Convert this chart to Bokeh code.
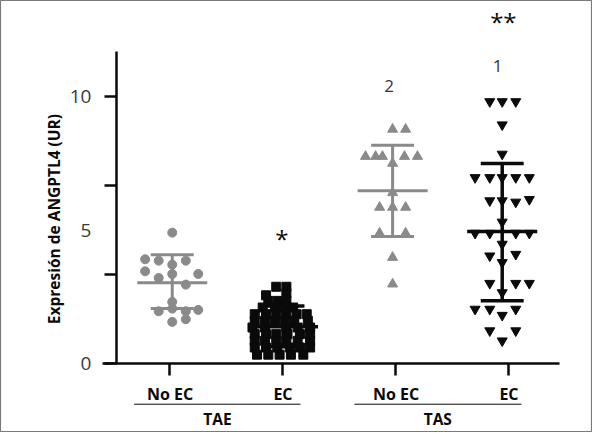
import math
from bokeh.plotting import figure
from bokeh.models import FixedTicker, Range1d
from bokeh.core.properties import value
from bokeh.embed import file_html
from bokeh.resources import INLINE

# ---------------- data ----------------
categories = ["No EC", "EC", "No EC", "EC"]
cat_pos = [1, 2, 3, 4]
groups = ["TAE", "TAS"]
y_title = "Expresión de ANGPTL4 (UR)"
y_tick_values = [0, 5, 10]
y_tick_labels = ["0", "5", "10"]
y_tick_marks = [0, 10 / 3, 20 / 3, 10]

# TAE - No EC (grey circles)
tae_noec = [4.9, 3.9, 3.85, 3.7, 3.85, 3.45, 3.2, 3.35, 2.95, 3.35, 2.3, 1.95, 2.05, 1.95, 2.0, 1.55, 1.65]
tae_noec_dx = [0.02, -0.22, -0.10, 0.02, 0.14, -0.22, -0.10, 0.25, 0.14, 0.02, 0.02, -0.10, 0.02, 0.14, 0.25, 0.02, 0.14]

# TAE - EC (black squares)
tae_ec = [2.87, 2.87,
          2.55, 2.62,
          2.34, 2.34, 2.34,
          2.09, 2.09, 2.09, 2.09,
          1.84, 1.84, 1.84, 1.84, 1.84, 1.84,
          1.59, 1.59, 1.59, 1.59, 1.59, 1.59,
          1.34, 1.34, 1.34, 1.34, 1.34,
          1.09, 1.09, 1.09, 1.09, 1.09, 1.09,
          0.84, 0.84, 0.84, 0.84, 0.84, 0.84,
          0.59, 0.59, 0.59, 0.59, 0.59, 0.59,
          0.32, 0.32, 0.32, 0.32, 0.32]
tae_ec_dx = [-0.06, 0.03,
             -0.15, 0.03,
             -0.13, -0.045, 0.03,
             -0.18, -0.07, 0.015, 0.09,
             -0.25, -0.15, -0.06, 0.03, 0.12, 0.21,
             -0.25, -0.16, -0.07, 0.015, 0.10, 0.22,
             -0.27, -0.16, 0.03, 0.13, 0.24,
             -0.25, -0.15, -0.06, 0.04, 0.15, 0.24,
             -0.25, -0.16, -0.06, 0.03, 0.13, 0.24,
             -0.25, -0.15, -0.05, 0.06, 0.15, 0.24,
             -0.23, -0.13, -0.03, 0.07, 0.18]

# TAS - No EC (grey triangles)
tas_noec = [8.78, 8.78, 7.76, 7.76, 7.76, 7.76, 7.76, 7.5, 6.4, 5.85, 5.85, 5.85, 4.88, 4.88, 3.97, 2.97]
tas_noec_dx = [-0.03, 0.085, -0.27, -0.18, -0.12, 0.075, 0.19, -0.03, -0.03, -0.145, -0.03, 0.085, -0.145, 0.085, -0.03, -0.03]

# TAS - EC (black inverted triangles)
tas_ec = [9.82, 9.82, 9.82, 8.95, 7.85,
          6.97, 6.97, 6.97, 6.97, 6.97,
          6.1, 6.1, 6.05, 6.15,
          5.3,
          4.88, 4.88, 4.88, 4.88,
          4.47, 4.03, 4.09, 3.78,
          3.0, 3.0, 3.0,
          2.65,
          2.03, 2.03, 1.8, 2.03,
          1.22, 1.22, 0.84]
tas_ec_dx = [-0.17, -0.06, 0.06, -0.06, -0.06,
             -0.30, -0.17, -0.06, 0.06, 0.18,
             -0.17, -0.06, 0.06, 0.18,
             -0.06,
             -0.30, -0.17, 0.06, 0.18,
             -0.06, -0.17, 0.06, -0.06,
             -0.17, 0.06, 0.18,
             -0.06,
             -0.30, -0.17, -0.06, 0.06,
             -0.17, 0.06, -0.06]

# mean and SD lines
means = [3.02, 1.37, 6.47, 4.94]
sd_hi = [4.07, 2.15, 8.18, 7.50]
sd_lo = [2.05, 0.62, 4.76, 2.34]

GREY = "#8a8a8a"
BLACK = "#0a0a0a"
FONT = "Open Sans"

p = figure(width=592, height=432,
           x_range=Range1d(-0.5, 4.739), y_range=Range1d(-2.601, 13.615),
           output_backend="svg", toolbar_location=None, min_border=0)
p.grid.visible = False
p.outline_line_color = "#7a7a7a"
p.outline_line_width = 1.2
p.background_fill_color = "white"
p.border_fill_color = "white"

# ---- y axis ----
yax = p.yaxis[0]
yax.fixed_location = 0.5265
yax.bounds = (0, 11.69)
yax.ticker = FixedTicker(ticks=y_tick_values, minor_ticks=y_tick_marks)
yax.major_tick_out = 0
yax.major_tick_in = 0
yax.minor_tick_out = 12
yax.minor_tick_in = 0
yax.minor_tick_line_width = 2.5
yax.minor_tick_line_color = BLACK
yax.axis_line_width = 2.5
yax.axis_line_color = BLACK
yax.major_label_text_color = None
yax.major_label_text_font_size = "1px"

# y tick labels (placed off the tick marks, as in the reference)
p.text(x=[0.305] * len(y_tick_values), y=y_tick_values, text=y_tick_labels,
       text_font=value(FONT), text_font_size="19px", text_align="right",
       text_baseline="middle", text_color="#3a3a3a")

# y title as rotated text
p.text(x=[-0.03], y=[5.41], text=[y_title], angle=math.pi / 2,
       text_font=value(FONT), text_font_style="bold", text_font_size="15.5px",
       text_align="center", text_baseline="middle", text_color=BLACK)

# ---- x axis ----
xax = p.xaxis[0]
xax.fixed_location = 0
xax.bounds = (0.4027, 4.447)
xax.ticker = FixedTicker(ticks=cat_pos)
xax.major_label_overrides = {c: l for c, l in zip(cat_pos, categories)}
xax.minor_tick_out = 0
xax.minor_tick_in = 0
xax.major_tick_out = 12
xax.major_tick_in = 0
xax.major_tick_line_width = 2.5
xax.major_tick_line_color = BLACK
xax.axis_line_width = 2.5
xax.axis_line_color = BLACK
xax.major_label_standoff = 8
xax.major_label_text_font = FONT
xax.major_label_text_font_style = "bold"
xax.major_label_text_font_size = "16px"
xax.major_label_text_color = BLACK

# ---- points ----
p.scatter([1 + d for d in tae_noec_dx], tae_noec, marker="circle", size=9,
          fill_color=GREY, line_color=GREY)
p.scatter([2 + d for d in tae_ec_dx], tae_ec, marker="square", size=9,
          fill_color=BLACK, line_color=BLACK)
p.scatter([3 + d for d in tas_noec_dx], tas_noec, marker="triangle", size=10,
          fill_color=GREY, line_color=GREY)
p.scatter([4 + d for d in tas_ec_dx], tas_ec, marker="inverted_triangle", size=10,
          fill_color=BLACK, line_color=BLACK)

# ---- mean +/- SD ----
centers = [1.02, 2.0, 2.97, 3.94]
colors = [GREY, BLACK, GREY, BLACK]
widths = [3, 3.5, 3, 3.5]
for c, m, hi, lo, col, w in zip(centers, means, sd_hi, sd_lo, colors, widths):
    p.segment(x0=[c - 0.31], y0=[m], x1=[c + 0.31], y1=[m], line_color=col, line_width=w)
    p.segment(x0=[c], y0=[lo], x1=[c], y1=[hi], line_color=col, line_width=w)
    p.segment(x0=[c - 0.19, c - 0.19], y0=[hi, lo], x1=[c + 0.19, c + 0.19], y1=[hi, lo],
              line_color=col, line_width=w)

# ---- significance marks ----
p.text(x=[1.99], y=[4.68], text=["*"], text_font=value(FONT), text_font_size="24px",
       text_align="center", text_baseline="middle", text_color=BLACK)
p.text(x=[3.95], y=[12.82], text=["**"], text_font=value(FONT), text_font_size="24px",
       text_align="center", text_baseline="middle", text_color=BLACK)
p.text(x=[2.94, 3.90], y=[10.42, 11.14], text=["2", "1"], text_font=value(FONT),
       text_font_size="17px", text_align="center", text_baseline="middle", text_color="#333333")

# ---- group labels ----
p.segment(x0=[0.683, 2.633], y0=[-1.539, -1.539], x1=[2.155, 4.11], y1=[-1.539, -1.539],
          line_color=BLACK, line_width=1)
p.text(x=[1.42, 3.37], y=[-2.10, -2.10], text=groups, text_font=value(FONT),
       text_font_style="bold", text_font_size="15.5px", text_align="center",
       text_baseline="middle", text_color=BLACK)

open("out.html", "w").write(file_html(p, INLINE))
